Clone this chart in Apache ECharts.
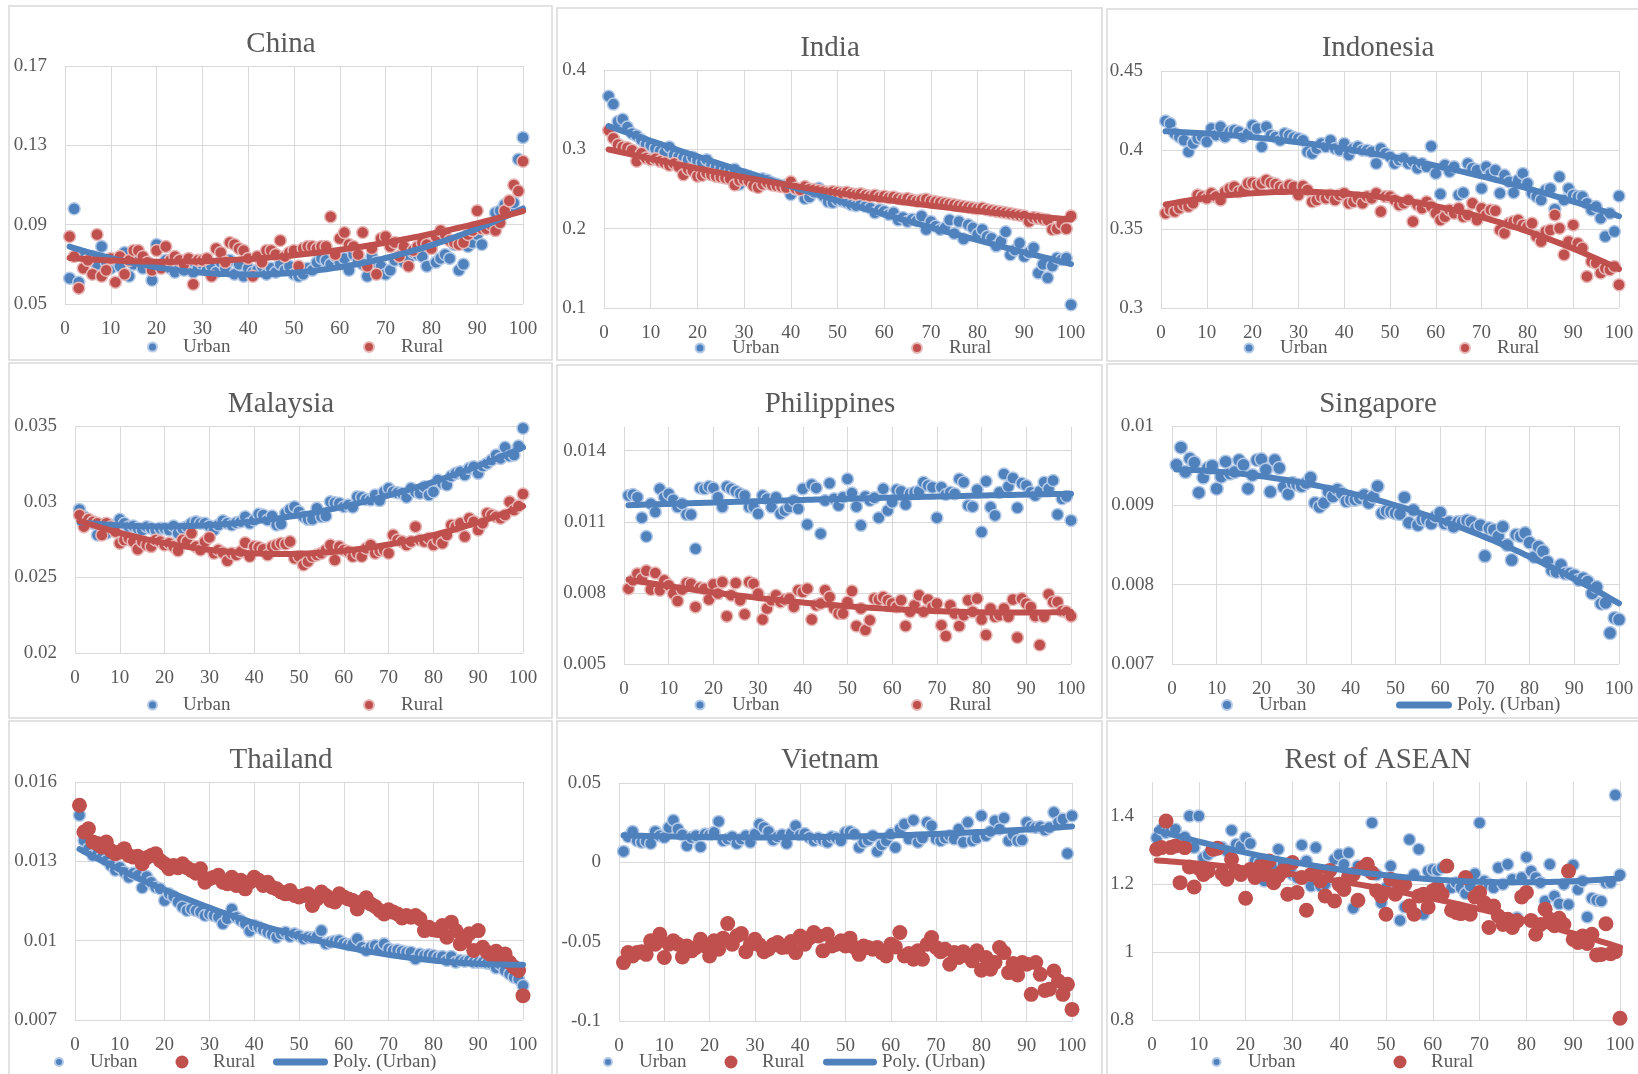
<!DOCTYPE html>
<html>
<head>
<meta charset="utf-8">
<script src="https://cdn.jsdelivr.net/npm/echarts@6/dist/echarts.min.js"></script>
<style>html,body{margin:0;padding:0;background:#fff;}#c{width:1638px;height:1074px;}</style>
</head>
<body>
<div id="c"></div>
<script>
// ---------------- DATA ----------------
const percentile = [1,2,3,4,5,6,7,8,9,10,11,12,13,14,15,16,17,18,19,20,21,22,23,24,25,26,27,28,29,30,31,32,33,34,35,36,37,38,39,40,41,42,43,44,45,46,47,48,49,50,51,52,53,54,55,56,57,58,59,60,61,62,63,64,65,66,67,68,69,70,71,72,73,74,75,76,77,78,79,80,81,82,83,84,85,86,87,88,89,90,91,92,93,94,95,96,97,98,99,100];

const chinaUrban = [0.063,0.098,0.061,0.075,0.072,0.074,0.070,0.079,0.071,0.068,0.072,0.069,0.076,0.064,0.070,0.073,0.068,0.071,0.062,0.080,0.069,0.072,0.068,0.066,0.070,0.067,0.069,0.066,0.068,0.070,0.067,0.069,0.066,0.071,0.068,0.072,0.065,0.070,0.064,0.068,0.066,0.067,0.069,0.065,0.068,0.066,0.070,0.067,0.069,0.065,0.064,0.065,0.068,0.067,0.071,0.073,0.072,0.070,0.074,0.071,0.073,0.067,0.075,0.072,0.070,0.064,0.074,0.071,0.069,0.065,0.067,0.072,0.074,0.071,0.073,0.076,0.075,0.074,0.069,0.078,0.071,0.073,0.075,0.073,0.080,0.067,0.070,0.079,0.081,0.085,0.080,0.088,0.090,0.096,0.097,0.100,0.099,0.101,0.123,0.134];
const chinaRural = [0.084,0.074,0.058,0.068,0.072,0.065,0.085,0.064,0.067,0.073,0.061,0.074,0.065,0.072,0.077,0.077,0.074,0.071,0.067,0.077,0.068,0.079,0.072,0.074,0.072,0.070,0.073,0.060,0.072,0.072,0.073,0.064,0.078,0.076,0.071,0.081,0.080,0.078,0.077,0.073,0.064,0.074,0.071,0.077,0.077,0.075,0.082,0.074,0.076,0.077,0.069,0.078,0.079,0.079,0.078,0.079,0.079,0.094,0.075,0.083,0.086,0.080,0.079,0.075,0.086,0.069,0.078,0.065,0.083,0.084,0.079,0.081,0.074,0.079,0.069,0.077,0.079,0.081,0.080,0.078,0.084,0.087,0.085,0.082,0.081,0.080,0.081,0.085,0.087,0.097,0.088,0.088,0.090,0.087,0.091,0.097,0.102,0.110,0.107,0.122];

const indiaUrban = [0.367,0.357,0.335,0.338,0.328,0.320,0.317,0.312,0.306,0.305,0.301,0.298,0.296,0.303,0.293,0.291,0.289,0.287,0.290,0.286,0.283,0.287,0.280,0.278,0.276,0.274,0.272,0.275,0.256,0.268,0.266,0.264,0.262,0.263,0.261,0.258,0.256,0.254,0.255,0.243,0.250,0.249,0.238,0.240,0.246,0.251,0.241,0.234,0.233,0.236,0.235,0.233,0.230,0.229,0.231,0.228,0.226,0.220,0.224,0.222,0.218,0.220,0.211,0.214,0.209,0.212,0.210,0.216,0.199,0.209,0.203,0.199,0.201,0.211,0.194,0.209,0.187,0.205,0.201,0.193,0.199,0.190,0.188,0.178,0.184,0.196,0.167,0.173,0.182,0.165,0.170,0.176,0.144,0.155,0.138,0.153,0.163,0.161,0.163,0.104];
const indiaRural = [0.324,0.314,0.306,0.303,0.302,0.299,0.285,0.295,0.289,0.287,0.288,0.285,0.283,0.280,0.282,0.278,0.268,0.275,0.273,0.266,0.267,0.270,0.268,0.266,0.265,0.264,0.263,0.255,0.261,0.262,0.260,0.254,0.252,0.256,0.258,0.255,0.254,0.253,0.252,0.259,0.251,0.249,0.253,0.250,0.249,0.248,0.247,0.246,0.247,0.246,0.245,0.246,0.244,0.243,0.244,0.242,0.241,0.242,0.240,0.241,0.239,0.240,0.238,0.237,0.238,0.236,0.235,0.236,0.237,0.235,0.234,0.233,0.232,0.231,0.230,0.229,0.228,0.227,0.226,0.225,0.226,0.224,0.223,0.222,0.221,0.220,0.219,0.218,0.217,0.216,0.209,0.214,0.213,0.212,0.211,0.199,0.200,0.206,0.200,0.216];

const indonesiaUrban = [0.4184,0.4168,0.4104,0.4083,0.4062,0.3989,0.4041,0.4073,0.4083,0.4052,0.4136,0.4094,0.4147,0.4083,0.4115,0.4125,0.4115,0.4083,0.4104,0.4157,0.4136,0.4020,0.4147,0.4094,0.4083,0.4062,0.4104,0.4094,0.4079,0.4073,0.4062,0.3989,0.3978,0.4010,0.4041,0.4020,0.4062,0.4010,0.3999,0.4041,0.3968,0.4010,0.4020,0.3999,0.3999,0.3989,0.3915,0.4010,0.3978,0.3957,0.3915,0.3936,0.3947,0.3915,0.3926,0.3884,0.3915,0.3894,0.4024,0.3852,0.3722,0.3905,0.3863,0.3894,0.3715,0.3730,0.3915,0.3884,0.3873,0.3757,0.3894,0.3852,0.3873,0.3726,0.3841,0.3799,0.3730,0.3810,0.3852,0.3789,0.3726,0.3705,0.3684,0.3747,0.3757,0.3625,0.3831,0.3684,0.3757,0.3715,0.3705,0.3705,0.3663,0.3621,0.3642,0.3568,0.3452,0.3600,0.3484,0.3709];
const indonesiaRural = [0.3600,0.3621,0.3610,0.3631,0.3652,0.3642,0.3663,0.3715,0.3705,0.3694,0.3726,0.3705,0.3684,0.3736,0.3757,0.3768,0.3736,0.3747,0.3789,0.3793,0.3778,0.3789,0.3810,0.3793,0.3785,0.3768,0.3757,0.3778,0.3768,0.3715,0.3772,0.3747,0.3673,0.3684,0.3705,0.3694,0.3715,0.3684,0.3715,0.3726,0.3663,0.3673,0.3694,0.3663,0.3705,0.3694,0.3726,0.3610,0.3705,0.3705,0.3684,0.3652,0.3663,0.3684,0.3547,0.3652,0.3631,0.3673,0.3642,0.3600,0.3557,0.3578,0.3621,0.3600,0.3631,0.3578,0.3589,0.3663,0.3557,0.3631,0.3589,0.3621,0.3616,0.3494,0.3473,0.3536,0.3547,0.3557,0.3526,0.3515,0.3536,0.3452,0.3421,0.3484,0.3494,0.3589,0.3505,0.3337,0.3421,0.3526,0.3410,0.3379,0.3200,0.3294,0.3284,0.3221,0.3252,0.3242,0.3263,0.3147];

const malaysiaUrban = [0.02949,0.02901,0.02868,0.02857,0.02780,0.02835,0.02791,0.02846,0.02839,0.02883,0.02857,0.02835,0.02839,0.02824,0.02813,0.02835,0.02824,0.02813,0.02824,0.02824,0.02813,0.02839,0.02791,0.02824,0.02835,0.02857,0.02868,0.02857,0.02857,0.02839,0.02813,0.02846,0.02874,0.02857,0.02846,0.02861,0.02868,0.02901,0.02857,0.02879,0.02919,0.02912,0.02879,0.02905,0.02846,0.02852,0.02923,0.02949,0.02967,0.02934,0.02901,0.02883,0.02883,0.02956,0.02901,0.02905,0.03000,0.02993,0.02989,0.02967,0.02978,0.02963,0.03033,0.03029,0.03015,0.03011,0.03044,0.03007,0.03066,0.03088,0.03066,0.03059,0.03055,0.03029,0.03088,0.03066,0.03055,0.03099,0.03044,0.03066,0.03143,0.03121,0.03110,0.03170,0.03187,0.03198,0.03176,0.03220,0.03231,0.03187,0.03236,0.03253,0.03275,0.03308,0.03286,0.03359,0.03302,0.03308,0.03368,0.03485];
const malaysiaRural = [0.02912,0.02835,0.02883,0.02868,0.02857,0.02780,0.02857,0.02835,0.02802,0.02725,0.02747,0.02758,0.02736,0.02685,0.02736,0.02714,0.02703,0.02747,0.02736,0.02714,0.02725,0.02703,0.02676,0.02747,0.02736,0.02791,0.02703,0.02681,0.02736,0.02764,0.02659,0.02681,0.02663,0.02610,0.02659,0.02648,0.02670,0.02729,0.02637,0.02703,0.02698,0.02685,0.02648,0.02703,0.02714,0.02725,0.02720,0.02736,0.02626,0.02637,0.02582,0.02604,0.02637,0.02648,0.02659,0.02681,0.02714,0.02615,0.02703,0.02681,0.02670,0.02637,0.02659,0.02637,0.02692,0.02714,0.02659,0.02676,0.02681,0.02659,0.02780,0.02747,0.02736,0.02714,0.02736,0.02835,0.02747,0.02736,0.02758,0.02714,0.02747,0.02725,0.02780,0.02846,0.02835,0.02857,0.02769,0.02890,0.02868,0.02813,0.02857,0.02923,0.02912,0.02901,0.02890,0.02912,0.03000,0.02945,0.02971,0.03051];

const philippinesUrban = [0.01211,0.01215,0.01204,0.01117,0.01038,0.01176,0.01141,0.01239,0.01204,0.01218,0.01193,0.01162,0.01176,0.01131,0.01131,0.00986,0.01243,0.01239,0.01249,0.01243,0.01204,0.01162,0.01249,0.01239,0.01229,0.01218,0.01211,0.01162,0.01162,0.01134,0.01211,0.01197,0.01162,0.01204,0.01134,0.01148,0.01162,0.01190,0.01155,0.01239,0.01089,0.01257,0.01243,0.01050,0.01190,0.01263,0.01197,0.01169,0.01204,0.01281,0.01221,0.01164,0.01085,0.01207,0.01190,0.01201,0.01117,0.01239,0.01148,0.01183,0.01235,0.01229,0.01173,0.01218,0.01225,0.01229,0.01267,0.01253,0.01246,0.01117,0.01246,0.01215,0.01225,0.01218,0.01281,0.01267,0.01169,0.01164,0.01235,0.01057,0.01271,0.01162,0.01127,0.01225,0.01302,0.01249,0.01285,0.01159,0.01263,0.01253,0.01225,0.01211,0.01229,0.01267,0.01239,0.01274,0.01131,0.01197,0.01207,0.01106];
const philippinesRural = [0.00818,0.00853,0.00881,0.00860,0.00893,0.00814,0.00884,0.00811,0.00853,0.00832,0.00797,0.00766,0.00814,0.00842,0.00839,0.00741,0.00822,0.00818,0.00772,0.00836,0.00797,0.00846,0.00702,0.00790,0.00842,0.00769,0.00710,0.00846,0.00839,0.00797,0.00688,0.00734,0.00769,0.00790,0.00762,0.00772,0.00776,0.00741,0.00811,0.00804,0.00818,0.00688,0.00748,0.00755,0.00811,0.00783,0.00734,0.00713,0.00713,0.00762,0.00808,0.00660,0.00734,0.00643,0.00685,0.00776,0.00772,0.00783,0.00769,0.00755,0.00741,0.00769,0.00660,0.00720,0.00748,0.00790,0.00720,0.00772,0.00741,0.00755,0.00664,0.00618,0.00748,0.00713,0.00660,0.00706,0.00769,0.00720,0.00776,0.00688,0.00622,0.00734,0.00699,0.00706,0.00734,0.00699,0.00772,0.00612,0.00776,0.00755,0.00741,0.00702,0.00580,0.00699,0.00794,0.00762,0.00762,0.00724,0.00720,0.00702];

const singaporeUrban = [0.00951,0.00973,0.00942,0.00959,0.00954,0.00916,0.00935,0.00947,0.00950,0.00921,0.00936,0.00955,0.00940,0.00942,0.00957,0.00951,0.00921,0.00938,0.00957,0.00958,0.00945,0.00917,0.00957,0.00947,0.00923,0.00914,0.00928,0.00926,0.00924,0.00928,0.00935,0.00903,0.00898,0.00903,0.00917,0.00911,0.00920,0.00915,0.00905,0.00907,0.00907,0.00909,0.00913,0.00903,0.00911,0.00924,0.00890,0.00893,0.00892,0.00890,0.00889,0.00910,0.00878,0.00894,0.00875,0.00882,0.00882,0.00877,0.00886,0.00891,0.00877,0.00879,0.00873,0.00879,0.00879,0.00881,0.00879,0.00871,0.00875,0.00836,0.00871,0.00869,0.00861,0.00873,0.00850,0.00831,0.00863,0.00861,0.00865,0.00853,0.00835,0.00848,0.00842,0.00829,0.00818,0.00816,0.00825,0.00814,0.00814,0.00812,0.00806,0.00808,0.00804,0.00789,0.00797,0.00776,0.00777,0.00739,0.00758,0.00756];

const thailandUrban = [0.01474,0.01379,0.01348,0.01322,0.01329,0.01316,0.01303,0.01284,0.01266,0.01278,0.01259,0.01240,0.01255,0.01247,0.01200,0.01243,0.01221,0.01202,0.01196,0.01152,0.01177,0.01167,0.01146,0.01127,0.01114,0.01120,0.01114,0.01108,0.01095,0.01101,0.01095,0.01089,0.01064,0.01083,0.01120,0.01089,0.01076,0.01064,0.01036,0.01057,0.01051,0.01041,0.01032,0.01023,0.01013,0.01026,0.01032,0.01016,0.01026,0.01019,0.01007,0.01013,0.01011,0.01016,0.01038,0.00988,0.00994,0.00998,0.01001,0.00990,0.00985,0.00988,0.01007,0.00975,0.00963,0.00975,0.00982,0.00969,0.00988,0.00969,0.00963,0.00965,0.00960,0.00956,0.00956,0.00931,0.00950,0.00944,0.00947,0.00944,0.00937,0.00940,0.00925,0.00940,0.00918,0.00925,0.00922,0.00925,0.00918,0.00918,0.00918,0.00915,0.00912,0.00897,0.00910,0.00887,0.00874,0.00862,0.00855,0.00830];
const thailandRural = [0.01512,0.01411,0.01423,0.01373,0.01367,0.01354,0.01373,0.01341,0.01329,0.01335,0.01348,0.01322,0.01316,0.01319,0.01291,0.01314,0.01322,0.01329,0.01303,0.01291,0.01272,0.01284,0.01276,0.01291,0.01276,0.01266,0.01255,0.01272,0.01221,0.01234,0.01240,0.01247,0.01221,0.01215,0.01240,0.01209,0.01228,0.01196,0.01221,0.01240,0.01228,0.01209,0.01221,0.01202,0.01196,0.01184,0.01177,0.01190,0.01171,0.01165,0.01171,0.01177,0.01133,0.01158,0.01184,0.01171,0.01152,0.01146,0.01177,0.01165,0.01158,0.01152,0.01120,0.01146,0.01162,0.01139,0.01129,0.01114,0.01101,0.01117,0.01108,0.01101,0.01086,0.01095,0.01089,0.01095,0.01083,0.01038,0.01051,0.01041,0.01038,0.01057,0.01013,0.01070,0.01038,0.00988,0.01001,0.01026,0.00963,0.01038,0.00975,0.00956,0.00944,0.00960,0.00937,0.00950,0.00918,0.00900,0.00887,0.00792];

const vietnamUrban = [0.0069,0.0161,0.0195,0.0136,0.0126,0.0132,0.0119,0.0195,0.0168,0.0157,0.0220,0.0266,0.0210,0.0174,0.0104,0.0157,0.0168,0.0098,0.0178,0.0174,0.0189,0.0258,0.0136,0.0147,0.0161,0.0119,0.0147,0.0168,0.0126,0.0178,0.0241,0.0220,0.0195,0.0140,0.0161,0.0174,0.0119,0.0182,0.0231,0.0174,0.0182,0.0157,0.0136,0.0153,0.0140,0.0126,0.0161,0.0153,0.0136,0.0189,0.0195,0.0178,0.0094,0.0126,0.0140,0.0168,0.0069,0.0111,0.0136,0.0178,0.0094,0.0210,0.0241,0.0147,0.0266,0.0126,0.0153,0.0252,0.0231,0.0147,0.0136,0.0153,0.0168,0.0147,0.0210,0.0126,0.0252,0.0136,0.0153,0.0294,0.0168,0.0195,0.0262,0.0210,0.0279,0.0136,0.0174,0.0136,0.0140,0.0252,0.0224,0.0220,0.0224,0.0203,0.0220,0.0315,0.0252,0.0273,0.0056,0.0294];
const vietnamRural = [-0.0632,-0.0569,-0.0590,-0.0569,-0.0563,-0.0580,-0.0495,-0.0516,-0.0453,-0.0600,-0.0516,-0.0495,-0.0516,-0.0596,-0.0527,-0.0558,-0.0537,-0.0485,-0.0527,-0.0590,-0.0495,-0.0548,-0.0478,-0.0386,-0.0516,-0.0464,-0.0449,-0.0563,-0.0516,-0.0485,-0.0520,-0.0563,-0.0548,-0.0520,-0.0506,-0.0537,-0.0533,-0.0499,-0.0569,-0.0464,-0.0516,-0.0478,-0.0443,-0.0464,-0.0558,-0.0453,-0.0527,-0.0516,-0.0495,-0.0527,-0.0478,-0.0537,-0.0580,-0.0527,-0.0537,-0.0548,-0.0537,-0.0569,-0.0590,-0.0516,-0.0533,-0.0443,-0.0590,-0.0575,-0.0611,-0.0558,-0.0611,-0.0516,-0.0474,-0.0537,-0.0563,-0.0548,-0.0642,-0.0569,-0.0600,-0.0563,-0.0590,-0.0621,-0.0558,-0.0680,-0.0600,-0.0674,-0.0632,-0.0537,-0.0569,-0.0695,-0.0638,-0.0710,-0.0632,-0.0642,-0.0832,-0.0632,-0.0706,-0.0807,-0.0800,-0.0685,-0.0748,-0.0832,-0.0769,-0.0927];

const aseanUrban = [1.336,1.361,1.351,1.356,1.361,1.317,1.338,1.400,1.307,1.400,1.277,1.287,1.297,1.307,1.307,1.297,1.358,1.317,1.312,1.336,1.319,1.268,1.263,1.209,1.238,1.248,1.302,1.258,1.238,1.228,1.219,1.315,1.268,1.194,1.307,1.194,1.199,1.238,1.273,1.287,1.258,1.292,1.129,1.253,1.248,1.238,1.380,1.227,1.145,1.189,1.253,1.204,1.093,1.132,1.331,1.228,1.302,1.111,1.238,1.243,1.240,1.248,1.253,1.189,1.204,1.189,1.172,1.194,1.230,1.380,1.209,1.199,1.189,1.248,1.199,1.258,1.214,1.101,1.219,1.279,1.238,1.219,1.204,1.150,1.258,1.165,1.142,1.199,1.140,1.256,1.184,1.209,1.103,1.158,1.152,1.150,1.204,1.204,1.462,1.227];
const aseanRural = [1.302,1.307,1.385,1.307,1.312,1.204,1.307,1.250,1.191,1.246,1.228,1.238,1.302,1.305,1.230,1.214,1.273,1.238,1.228,1.158,1.243,1.219,1.250,1.228,1.268,1.204,1.224,1.238,1.170,1.263,1.175,1.219,1.123,1.228,1.238,1.209,1.165,1.240,1.150,1.199,1.184,1.221,1.228,1.152,1.248,1.258,1.233,1.180,1.165,1.111,1.214,1.170,1.191,1.199,1.135,1.111,1.165,1.170,1.132,1.180,1.189,1.170,1.253,1.123,1.116,1.113,1.219,1.111,1.162,1.175,1.145,1.072,1.135,1.106,1.081,1.096,1.072,1.091,1.162,1.175,1.093,1.052,1.081,1.126,1.096,1.077,1.099,1.081,1.238,1.037,1.028,1.047,1.025,1.052,0.991,0.993,1.083,0.995,1.001,0.805];

// ---------------- STYLE / LAYOUT ----------------
const BLUE = '#4F81BD', RED = '#C0504D', TXT = '#595959', GRIDC = '#D9D9D9';
const FONT = '"Liberation Serif", "DejaVu Serif", serif';
const PILL = 'path://M3.5,0 L52.5,0 A3.5,3.5 0 0 1 52.5,7 L3.5,7 A3.5,3.5 0 0 1 3.5,0 Z';
const mkSmallU = {size: 12, color: BLUE, border: '#B4C9E6', bw: 1.5};
const mkSmallR = {size: 12, color: RED, border: '#E6B8B7', bw: 1.5};
const mkBigR = {size: 15, color: RED, border: RED, bw: 0};

// legend items: cx = marker centre, tx = text start, d = marker diameter (line items: left/w)
const panels = [
  {title:'China', tx:281, ty:43, box:[9,6,543,354], grid:{left:65,top:66,width:458,height:238},
   y:{min:0.05,max:0.17,interval:0.04}, urban:chinaUrban, rural:chinaRural, tU:true, tR:true, mU:mkSmallU, mR:mkSmallR,
   leg:{cy:347, items:[{k:'Urban',cx:151.5,tx:182,d:9},{k:'Rural',cx:368,tx:400,d:10}]}},
  {title:'India', tx:830, ty:47, box:[557,8,545,352], grid:{left:604,top:70,width:467,height:238},
   y:{min:0.1,max:0.4,interval:0.1}, urban:indiaUrban, rural:indiaRural, tU:true, tR:true, mU:mkSmallU, mR:mkSmallR,
   leg:{cy:348, items:[{k:'Urban',cx:699,tx:731,d:9},{k:'Rural',cx:916,tx:948,d:10}]}},
  {title:'Indonesia', tx:1378, ty:47, box:[1107,9,535,352], grid:{left:1161,top:71,width:458,height:237},
   y:{min:0.3,max:0.45,interval:0.05}, urban:indonesiaUrban, rural:indonesiaRural, tU:true, tR:true, mU:mkSmallU, mR:mkSmallR,
   leg:{cy:348, items:[{k:'Urban',cx:1248,tx:1279,d:9},{k:'Rural',cx:1464,tx:1496,d:10}]}},
  {title:'Malaysia', tx:281, ty:403, box:[9,363,543,355], grid:{left:75,top:426,width:448,height:227},
   y:{min:0.02,max:0.035,interval:0.005}, urban:malaysiaUrban, rural:malaysiaRural, tU:true, tR:true, mU:mkSmallU, mR:mkSmallR,
   leg:{cy:705, items:[{k:'Urban',cx:151.5,tx:182,d:9},{k:'Rural',cx:368,tx:400,d:10}]}},
  {title:'Philippines', tx:830, ty:403, box:[557,365,545,353], grid:{left:624,top:427,width:447,height:237},
   y:{min:0.005,max:0.015,interval:0.003,hideMax:true}, urban:philippinesUrban, rural:philippinesRural, tU:true, tR:true, mU:mkSmallU, mR:mkSmallR,
   leg:{cy:705, items:[{k:'Urban',cx:699,tx:731,d:9},{k:'Rural',cx:916,tx:948,d:10}]}},
  {title:'Singapore', tx:1378, ty:403, box:[1107,364,535,354], grid:{left:1172,top:426,width:447,height:238},
   y:{min:0.007,max:0.01,interval:0.001}, urban:singaporeUrban, rural:null, tU:true, tR:false, mU:{size:13,color:BLUE,border:'#B4C9E6',bw:1.5}, mR:null,
   leg:{cy:705, items:[{k:'Urban',cx:1226,tx:1258,d:10},{k:'Poly. (Urban)',line:true,left:1396,w:56}]}},
  {title:'Thailand', tx:281, ty:759, box:[9,721,543,360], grid:{left:75,top:782,width:448,height:238},
   y:{min:0.007,max:0.016,interval:0.003}, urban:thailandUrban, rural:thailandRural, tU:true, tR:false, mU:mkSmallU, mR:mkBigR,
   leg:{cy:1062, items:[{k:'Urban',cx:58,tx:89,d:8},{k:'Rural',cx:182,tx:213,d:13},{k:'Poly. (Urban)',line:true,left:273,w:55}]}},
  {title:'Vietnam', tx:830, ty:759, box:[557,721,545,360], grid:{left:619,top:783,width:453,height:238},
   y:{min:-0.1,max:0.05,interval:0.05}, urban:vietnamUrban, rural:vietnamRural, tU:true, tR:false, mU:mkSmallU, mR:mkBigR,
   leg:{cy:1062, items:[{k:'Urban',cx:607,tx:638,d:8},{k:'Rural',cx:731,tx:762,d:13},{k:'Poly. (Urban)',line:true,left:823,w:54}]}},
  {title:'Rest of ASEAN', tx:1378, ty:759, box:[1107,721,535,360], grid:{left:1152,top:782,width:468,height:238},
   y:{min:0.8,max:1.5,interval:0.2,hideMax:true}, urban:aseanUrban, rural:aseanRural, tU:true, tR:true, mU:mkSmallU, mR:mkBigR,
   leg:{cy:1062, items:[{k:'Urban',cx:1215.5,tx:1247,d:8},{k:'Rural',cx:1400,tx:1431,d:13}]}}
];

// least-squares polynomial trendline (order 2, like Excel "Poly.")
function polyfit(xs, ys, order) {
  const n = order + 1, A = [];
  for (let i = 0; i < n; i++) A.push(new Array(n + 1).fill(0));
  for (let k = 0; k < xs.length; k++) {
    const x = xs[k] / 100, y = ys[k];
    for (let i = 0; i < n; i++) {
      for (let j = 0; j < n; j++) A[i][j] += Math.pow(x, i + j);
      A[i][n] += Math.pow(x, i) * y;
    }
  }
  for (let i = 0; i < n; i++) {
    let m = i;
    for (let r = i + 1; r < n; r++) if (Math.abs(A[r][i]) > Math.abs(A[m][i])) m = r;
    const t = A[i]; A[i] = A[m]; A[m] = t;
    for (let r = i + 1; r < n; r++) {
      const f = A[r][i] / A[i][i];
      for (let c = i; c <= n; c++) A[r][c] -= f * A[i][c];
    }
  }
  const co = new Array(n).fill(0);
  for (let i = n - 1; i >= 0; i--) {
    let s = A[i][n];
    for (let c = i + 1; c < n; c++) s -= A[i][c] * co[c];
    co[i] = s / A[i][i];
  }
  return x => co.reduce((acc, c, i) => acc + c * Math.pow(x / 100, i), 0);
}
function trend(ys) {
  const f = polyfit(percentile, ys, 2);
  return percentile.map(x => [x, f(x)]);
}
const pairs = ys => percentile.map((x, i) => [x, ys[i]]);

const option = {
  animation: false,
  backgroundColor: '#fff',
  textStyle: {fontFamily: FONT},
  title: [], grid: [], xAxis: [], yAxis: [], series: [], legend: [],
  graphic: []
};

panels.forEach((p, gi) => {
  option.graphic.push({type:'rect', silent:true, z:-10,
    shape:{x:p.box[0], y:p.box[1], width:p.box[2], height:p.box[3]},
    style:{fill:'none', stroke:GRIDC, lineWidth:1.5}});
  option.title.push({text:p.title, left:p.tx, top:p.ty - 13, textAlign:'center', padding:0,
    textStyle:{fontFamily:FONT, fontSize:29, fontWeight:'normal', color:TXT}});
  option.grid.push(Object.assign({containLabel:false}, p.grid));
  option.xAxis.push({type:'value', gridIndex:gi, min:0, max:100, interval:10,
    axisLine:{show:false}, axisTick:{show:false},
    axisLabel:{color:TXT, fontFamily:FONT, fontSize:19, margin:16},
    splitLine:{show:true, lineStyle:{color:GRIDC, width:1}}});
  option.yAxis.push({type:'value', gridIndex:gi, min:p.y.min, max:p.y.max, interval:p.y.interval,
    axisLine:{show:false}, axisTick:{show:false},
    axisLabel:{color:TXT, fontFamily:FONT, fontSize:19, margin:18, showMaxLabel: !p.y.hideMax},
    splitLine:{show:true, showMaxLine: !p.y.hideMax, lineStyle:{color:GRIDC, width:1}}});
  const key = p.title + '|';
  option.series.push({name:key+'Urban', type:'scatter', xAxisIndex:gi, yAxisIndex:gi, silent:true,
    symbol:'circle', symbolSize:p.mU.size, data:pairs(p.urban),
    itemStyle:{color:p.mU.color, borderColor:p.mU.border, borderWidth:p.mU.bw, opacity:1}});
  if (p.rural) option.series.push({name:key+'Rural', type:'scatter', xAxisIndex:gi, yAxisIndex:gi, silent:true,
    symbol:'circle', symbolSize:p.mR.size, data:pairs(p.rural),
    itemStyle:{color:p.mR.color, borderColor:p.mR.border, borderWidth:p.mR.bw, opacity:1}});
  if (p.tU) option.series.push({name:key+'Poly. (Urban)', type:'line', xAxisIndex:gi, yAxisIndex:gi, silent:true,
    showSymbol:false, symbol:'none', data:trend(p.urban), color:BLUE,
    lineStyle:{color:BLUE, width:6, cap:'round', join:'round'}, itemStyle:{color:BLUE}});
  if (p.tR) option.series.push({name:key+'Poly. (Rural)', type:'line', xAxisIndex:gi, yAxisIndex:gi, silent:true,
    showSymbol:false, symbol:'none', data:trend(p.rural), color:RED,
    lineStyle:{color:RED, width:6, cap:'round', join:'round'}, itemStyle:{color:RED}});
  p.leg.items.forEach(it => {
    const base = {data:[key + it.k], padding:0, selectedMode:false,
      formatter: n => n.split('|')[1]};
    if (it.line) {
      option.legend.push(Object.assign(base, {left:it.left, top:p.leg.cy - 10, icon:PILL,
        itemWidth:it.w, itemHeight:7,
        textStyle:{color:TXT, fontFamily:FONT, fontSize:19, lineHeight:20}}));
    } else {
      const pad = it.tx - it.cx - it.d / 2 - 5;
      option.legend.push(Object.assign(base, {left:it.cx - it.d / 2, top:p.leg.cy - 10, icon:'circle',
        itemWidth:it.d, itemHeight:it.d,
        textStyle:{color:TXT, fontFamily:FONT, fontSize:19, lineHeight:20, padding:[0,0,0,pad]}}));
    }
  });
});

const chart = echarts.init(document.getElementById('c'), null, {renderer:'canvas', width:1638, height:1074});
chart.setOption(option);
</script>
</body>
</html>
